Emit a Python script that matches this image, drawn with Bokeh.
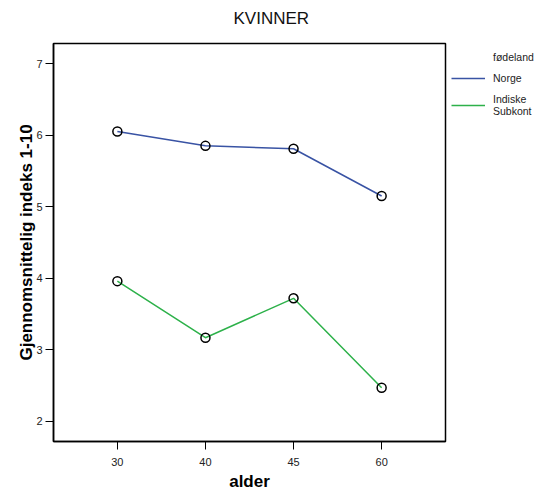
from bokeh.plotting import figure
from bokeh.models import FactorRange, Range1d, Legend, LegendItem, Title
from bokeh.embed import file_html
from bokeh.resources import INLINE

ages = ["30", "40", "45", "60"]
norge = [6.05, 5.85, 5.81, 5.15]
indiske = [3.96, 3.17, 3.72, 2.47]
y_ticks = [2, 3, 4, 5, 6, 7]

FONT = "Liberation Sans"

p = figure(x_range=FactorRange(*ages, range_padding=0.225, range_padding_units="absolute"),
           y_range=Range1d(1.72, 7.28),
           width=533, height=489, frame_width=392, frame_height=398,
           output_backend="svg", toolbar_location=None,
           min_border_left=53, min_border_right=88, min_border_top=43, min_border_bottom=48)

spacer = Title(text=" ", text_font_size="1px", standoff=13)
main_title = Title(text="KVINNER", text_font=FONT, text_font_size="17px",
                   text_font_style="normal", text_color="#111111",
                   align="left", offset=180, standoff=0)
p.add_layout(spacer, "above")
p.add_layout(main_title, "above")

p.xgrid.visible = False
p.ygrid.visible = False
p.outline_line_color = "black"
p.outline_line_width = 1.5
p.outline_line_alpha = 1

l1 = p.line(ages, norge, line_color="#3953A4", line_width=1.5)
l2 = p.line(ages, indiske, line_color="#2DB14A", line_width=1.5)
l_head = p.line(ages, norge, line_alpha=0)  # invisible renderer carrying the legend heading
p.scatter(ages, norge, marker="circle", size=9, fill_color=None, line_color="black", line_width=1.5)
p.scatter(ages, indiske, marker="circle", size=9, fill_color=None, line_color="black", line_width=1.5)

for ax in (p.xaxis[0], p.yaxis[0]):
    ax.axis_line_color = "black"
    ax.axis_line_width = 1.5
    ax.major_tick_line_color = "black"
    ax.major_tick_line_width = 1
    ax.major_tick_out = 8
    ax.major_tick_in = 0
    ax.minor_tick_line_color = None
    ax.major_label_text_font = FONT
    ax.major_label_text_font_size = "11px"
    ax.major_label_text_color = "#222222"
    ax.axis_label_text_font = FONT
    ax.axis_label_text_font_style = "bold"
    ax.axis_label_text_font_size = "17px"
    ax.axis_label_text_color = "black"

p.yaxis.ticker = y_ticks
p.yaxis.axis_label = "Gjennomsnittelig indeks 1-10"
p.xaxis.axis_label = "alder"
p.xaxis.major_label_standoff = 8
p.yaxis.major_label_standoff = 3
p.xaxis.axis_label_standoff = 3
p.yaxis.axis_label_standoff = -3

legend = Legend(items=[LegendItem(label="fødeland", renderers=[l_head]),
                       LegendItem(label="Norge", renderers=[l1]),
                       LegendItem(label="Indiske\nSubkont", renderers=[l2])],
                location=(6, 324))
legend.label_text_font = FONT
legend.label_text_font_size = "10.5px"
legend.label_text_color = "#222222"
legend.border_line_color = None
legend.background_fill_alpha = 0
legend.glyph_width = 34
legend.glyph_height = 12
legend.label_standoff = 8
legend.spacing = 9
legend.padding = 4
legend.margin = 0
legend.label_height = 12
p.add_layout(legend, "right")

open("out.html", "w").write(file_html(p, INLINE))
